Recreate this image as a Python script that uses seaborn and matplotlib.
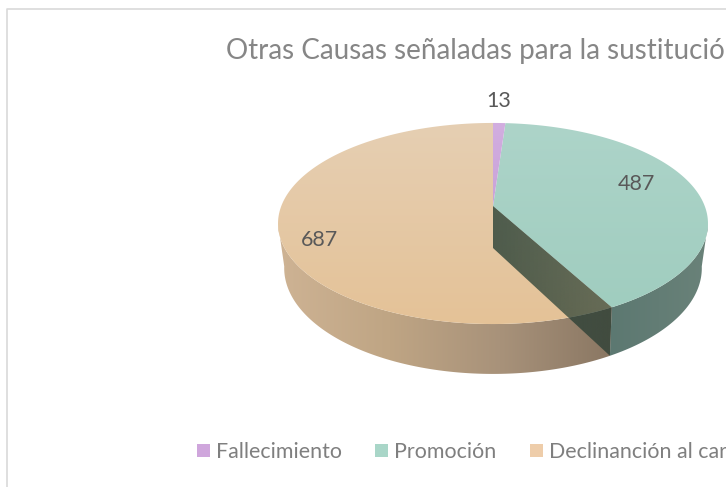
import numpy as np
import matplotlib
matplotlib.use('Agg')
import matplotlib.pyplot as plt
import seaborn as sns
from matplotlib.patches import Patch, Polygon

sns.set_theme(style='white')
plt.rcParams['font.family'] = ['Lato', 'DejaVu Sans']

# ---------- datos ----------
titulo = 'Otras Causas señaladas para la sustitución'
causas = ['Fallecimiento', 'Promoción', 'Declinanción al cargo']
valores = [13, 487, 687]

colores_leyenda = ['#cfa6dc', '#a9d6c8', '#eecdaa']
grad_superficie = [['#d2aee0', '#c9a2d8'],
                   ['#add4c9', '#a0cdbf'],
                   ['#e6cfb3', '#e4c297']]

# ---------- geometria del pastel (px) ----------
CX = 493
TOP_Y, TOP_A, TOP_B, TOP_Q = 206, 211.7, 97.5, 0.174
BOT_Y, BOT_A, BOT_B, BOT_Q = 248, 205, 102, 0.19


def borde(theta, cy, a, b, q):
    # theta en radianes, horario desde arriba, con perspectiva
    x, y = np.sin(theta), -np.cos(theta)
    den = 1 - q * y
    return np.column_stack([CX + a * x / den, cy + b * y / den])


def borde_sup(theta):
    return borde(theta, TOP_Y, TOP_A, TOP_B, TOP_Q)


def borde_inf(theta):
    return borde(theta, BOT_Y, BOT_A, BOT_B, BOT_Q)


def relleno(ax, pts, colores, vertical=False, alpha=None):
    # poligono con degradado, recortando una imagen
    pal = np.array(sns.blend_palette(colores, n_colors=256))
    if alpha is not None:
        pal = np.column_stack([pal, np.linspace(alpha[0], alpha[1], 256)])
    img = pal[:, None, :] if vertical else pal[None, :, :]
    x0, x1 = pts[:, 0].min(), pts[:, 0].max()
    y0, y1 = pts[:, 1].min(), pts[:, 1].max()
    im = ax.imshow(img, extent=(x0, x1, y1, y0), aspect='auto', interpolation='bilinear')
    im.set_clip_path(Polygon(pts, closed=True, transform=ax.transData))


fig = plt.figure(figsize=(7.26, 4.87), dpi=100)
ax = fig.add_axes([0, 0, 1, 1])

# marco del grafico
ax.plot([6.5, 6.5, 726], [487, 8.5, 8.5], color='#d9d9d9', lw=1.2)

# angulos a partir de los valores
fin = np.cumsum(valores) / np.sum(valores) * 2 * np.pi
ini = np.r_[0, fin[:-1]]

# paredes laterales
lim_der = np.arccos(-TOP_Q)
lim_izq = 2 * np.pi - lim_der
t = np.linspace(lim_der, ini[2], 80)
relleno(ax, np.vstack([borde_sup(t), borde_inf(t[::-1])]), ['#5c7871', '#6a8279'])
t = np.linspace(ini[2], lim_izq, 160)
relleno(ax, np.vstack([borde_sup(t), borde_inf(t[::-1])]),
        ['#ceb394', '#bfa584', '#a8927a', '#8a7763'])

# caras superiores
for i in [2, 1, 0]:
    t = np.linspace(ini[i], fin[i], 200)
    pts = np.vstack([[CX, TOP_Y], borde_sup(t)])
    relleno(ax, pts, grad_superficie[i], vertical=True)

# corte interior oscuro, sobre el sector grande
p_sup = borde_sup(np.array([ini[2]]))[0]
p_inf = borde_inf(np.array([ini[2]]))[0]
cara = np.array([[CX, TOP_Y], p_sup, p_inf, [CX, BOT_Y]])
relleno(ax, cara, ['#0d2d26', '#0d2d26'], alpha=(0.70, 0.58))

# etiquetas de datos
pos_etiquetas = [(499, 101), (636, 184), (319, 240)]
for v, (x, y) in zip(valores, pos_etiquetas):
    ax.text(x, y, str(v), ha='center', va='center', fontsize=15.5, color='#595959')

ax.text(226, 51, titulo, ha='left', va='center', fontsize=20, color='#868686')

handles = [Patch(facecolor=c, edgecolor='none') for c in colores_leyenda]
ax.legend(handles, causas, ncol=3, loc='center left',
          bbox_to_anchor=(197 / 726, 1 - 452 / 487), bbox_transform=ax.transAxes,
          frameon=False, fontsize=15.4, labelcolor='#7f7f7f', handlelength=0.62, handleheight=0.62,
          handletextpad=0.27, columnspacing=1.55, borderpad=0, borderaxespad=0)

ax.set_xlim(0, 726)
ax.set_ylim(487, 0)
ax.axis('off')

fig.savefig('out.png', dpi=100)
